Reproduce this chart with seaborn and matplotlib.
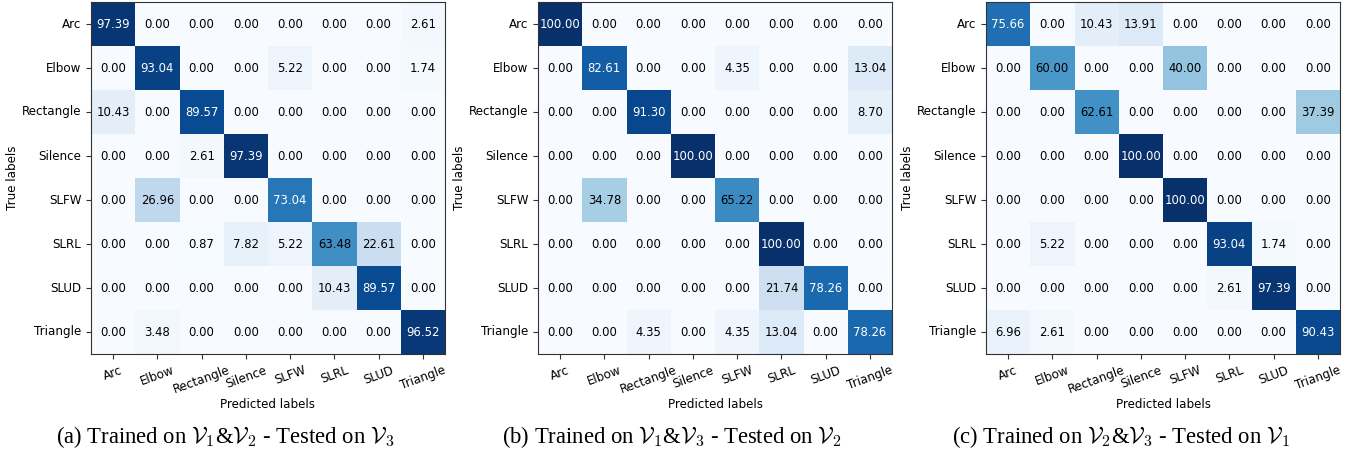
import numpy as np
import pandas as pd
import matplotlib
matplotlib.use("Agg")
import matplotlib.pyplot as plt
import seaborn as sns

labels = ["Arc", "Elbow", "Rectangle", "Silence", "SLFW", "SLRL", "SLUD", "Triangle"]

cm_v12_on_v3 = [
    [97.39, 0.00, 0.00, 0.00, 0.00, 0.00, 0.00, 2.61],
    [0.00, 93.04, 0.00, 0.00, 5.22, 0.00, 0.00, 1.74],
    [10.43, 0.00, 89.57, 0.00, 0.00, 0.00, 0.00, 0.00],
    [0.00, 0.00, 2.61, 97.39, 0.00, 0.00, 0.00, 0.00],
    [0.00, 26.96, 0.00, 0.00, 73.04, 0.00, 0.00, 0.00],
    [0.00, 0.00, 0.87, 7.82, 5.22, 63.48, 22.61, 0.00],
    [0.00, 0.00, 0.00, 0.00, 0.00, 10.43, 89.57, 0.00],
    [0.00, 3.48, 0.00, 0.00, 0.00, 0.00, 0.00, 96.52],
]

cm_v13_on_v2 = [
    [100.00, 0.00, 0.00, 0.00, 0.00, 0.00, 0.00, 0.00],
    [0.00, 82.61, 0.00, 0.00, 4.35, 0.00, 0.00, 13.04],
    [0.00, 0.00, 91.30, 0.00, 0.00, 0.00, 0.00, 8.70],
    [0.00, 0.00, 0.00, 100.00, 0.00, 0.00, 0.00, 0.00],
    [0.00, 34.78, 0.00, 0.00, 65.22, 0.00, 0.00, 0.00],
    [0.00, 0.00, 0.00, 0.00, 0.00, 100.00, 0.00, 0.00],
    [0.00, 0.00, 0.00, 0.00, 0.00, 21.74, 78.26, 0.00],
    [0.00, 0.00, 4.35, 0.00, 4.35, 13.04, 0.00, 78.26],
]

cm_v23_on_v1 = [
    [75.66, 0.00, 10.43, 13.91, 0.00, 0.00, 0.00, 0.00],
    [0.00, 60.00, 0.00, 0.00, 40.00, 0.00, 0.00, 0.00],
    [0.00, 0.00, 62.61, 0.00, 0.00, 0.00, 0.00, 37.39],
    [0.00, 0.00, 0.00, 100.00, 0.00, 0.00, 0.00, 0.00],
    [0.00, 0.00, 0.00, 0.00, 100.00, 0.00, 0.00, 0.00],
    [0.00, 5.22, 0.00, 0.00, 0.00, 93.04, 1.74, 0.00],
    [0.00, 0.00, 0.00, 0.00, 0.00, 2.61, 97.39, 0.00],
    [6.96, 2.61, 0.00, 0.00, 0.00, 0.00, 0.00, 90.43],
]

captions = [
    r"(a) Trained on $\mathcal{V}_1$&$\mathcal{V}_2$ - Tested on $\mathcal{V}_3$",
    r"(b) Trained on $\mathcal{V}_1$&$\mathcal{V}_3$ - Tested on $\mathcal{V}_2$",
    r"(c) Trained on $\mathcal{V}_2$&$\mathcal{V}_3$ - Tested on $\mathcal{V}_1$",
]

plt.rcParams["mathtext.fontset"] = "cm"
plt.rcParams["font.family"] = ["DejaVu Sans"]

W, H = 1363, 459
fig = plt.figure(figsize=(W / 100, H / 100), dpi=100)

lefts = [91, 538, 986]
ax_w, ax_top, ax_bot = 354, 2, 354
cap_x = [225, 672, 1121]

for k, mat in enumerate([cm_v12_on_v3, cm_v13_on_v2, cm_v23_on_v1]):
    ax = fig.add_axes([lefts[k] / W, (H - ax_bot) / H, ax_w / W, (ax_bot - ax_top) / H])
    df = pd.DataFrame(np.array(mat), index=labels, columns=labels)
    sns.heatmap(df, ax=ax, cmap="Blues", vmin=0, vmax=100, cbar=False,
                annot=True, fmt=".2f", annot_kws={"fontsize": 8.4})
    vals = np.array(mat).ravel()
    for t, v in zip(ax.texts, vals):
        t.set_color("white" if v > 70 else "black")
    for s in ax.spines.values():
        s.set_visible(True)
        s.set_linewidth(0.8)
        s.set_color("#333333")
    ax.tick_params(axis="both", length=3.5, width=0.8, labelsize=8.6, color="#333333")
    ax.set_xticklabels(labels, rotation=20, ha="center")
    ax.set_yticklabels(labels, rotation=0)
    ax.set_xlabel("Predicted labels", fontsize=8.6, labelpad=1)
    ax.set_ylabel("True labels", fontsize=8.6, labelpad=2)
    fig.text(cap_x[k] / W, 1 - 437 / H, captions[k], ha="center", va="center",
             fontsize=16.3, family="Liberation Serif")

fig.savefig("out.png", dpi=100)
